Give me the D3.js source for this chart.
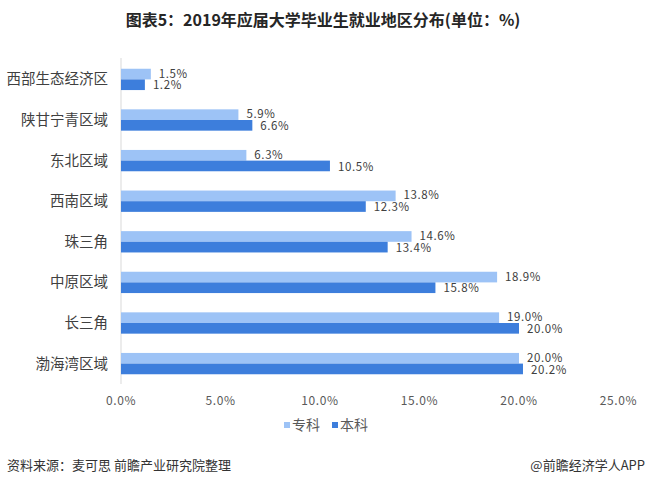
<!DOCTYPE html>
<html>
<head>
<meta charset="utf-8">
<script src="https://cdn.jsdelivr.net/npm/d3@7"></script>
<style>
  body { margin: 0; background: #fff; }
  svg { display: block; font-family: "Noto Sans CJK SC", "Noto Sans", sans-serif; }
</style>
</head>
<body>
<script>
const regions = ["西部生态经济区", "陕甘宁青区域", "东北区域", "西南区域", "珠三角", "中原区域", "长三角", "渤海湾区域"];
const zhuanke = [1.5, 5.9, 6.3, 13.8, 14.6, 18.9, 19.0, 20.0];
const benke = [1.2, 6.6, 10.5, 12.3, 13.4, 15.8, 20.0, 20.2];
const xTicks = [0, 5, 10, 15, 20, 25];
const seriesNames = ["专科", "本科"];
const seriesColors = ["#9dc3f6", "#3d7edc"];

const width = 646;
const height = 486;

const svg = d3.select("body")
    .append("svg")
    .attr("width", width)
    .attr("height", height);

svg.append("text")
    .attr("x", 323)
    .attr("y", 26)
    .attr("text-anchor", "middle")
    .style("font-size", "16px")
    .style("font-weight", "bold")
    .style("fill", "#262626")
    .text("图表5：2019年应届大学毕业生就业地区分布(单位：%)");

const x = d3.scaleLinear().domain([0, 25]).range([121, 618.5]);
const y = d3.scaleBand().domain(regions).range([59, 384]).paddingInner(0.475).paddingOuter(0.24);
const sub = d3.scaleBand().domain(seriesNames).range([0, y.bandwidth()]);

// category axis line
svg.append("line")
    .attr("x1", x(0)).attr("x2", x(0))
    .attr("y1", 58).attr("y2", 384)
    .style("stroke", "#d9d9d9");

svg.append("g")
    .selectAll("text")
    .data(regions)
    .enter()
    .append("text")
    .attr("x", 108)
    .attr("y", d => y(d) + y.bandwidth() / 2)
    .attr("dy", "0.35em")
    .attr("text-anchor", "end")
    .style("font-size", "14.5px")
    .style("fill", "#404040")
    .text(d => d);

const rows = regions.map((r, i) => [
    { region: r, name: "专科", value: zhuanke[i] },
    { region: r, name: "本科", value: benke[i] }
]).flat();

svg.append("g")
    .selectAll("rect")
    .data(rows)
    .enter()
    .append("rect")
    .attr("x", x(0))
    .attr("y", d => y(d.region) + sub(d.name))
    .attr("width", d => x(d.value) - x(0))
    .attr("height", sub.bandwidth())
    .style("fill", d => seriesColors[seriesNames.indexOf(d.name)]);

svg.append("g")
    .selectAll("text")
    .data(rows)
    .enter()
    .append("text")
    .attr("x", d => x(d.value) + 8)
    .attr("y", d => y(d.region) + sub(d.name) + sub.bandwidth() / 2)
    .attr("dy", d => d.name === "专科" ? "0.3em" : "0.4em")
    .style("font-size", "11.5px")
    .style("letter-spacing", "0.6px")
    .style("fill", "#404040")
    .text(d => d.value.toFixed(1) + "%");

svg.append("g")
    .selectAll("text")
    .data(xTicks)
    .enter()
    .append("text")
    .attr("x", d => x(d))
    .attr("y", 405)
    .attr("text-anchor", "middle")
    .style("font-size", "12px")
    .style("letter-spacing", "0.6px")
    .style("fill", "#595959")
    .text(d => d.toFixed(1) + "%");

// legend
const legend = svg.append("g");
const legendX = [284, 332];
seriesNames.forEach((n, i) => {
    legend.append("rect")
        .attr("x", legendX[i])
        .attr("y", 422)
        .attr("width", 6)
        .attr("height", 6)
        .style("fill", seriesColors[i]);
    legend.append("text")
        .attr("x", legendX[i] + 8)
        .attr("y", 430)
        .style("font-size", "14px")
        .style("fill", "#595959")
        .text(n);
});

svg.append("text")
    .attr("x", 7)
    .attr("y", 470)
    .style("font-size", "13px")
    .style("fill", "#333")
    .text("资料来源：麦可思 前瞻产业研究院整理");

svg.append("text")
    .attr("x", 645)
    .attr("y", 470)
    .attr("text-anchor", "end")
    .style("font-size", "13px")
    .style("fill", "#333")
    .text("@前瞻经济学人APP");
</script>
</body>
</html>
